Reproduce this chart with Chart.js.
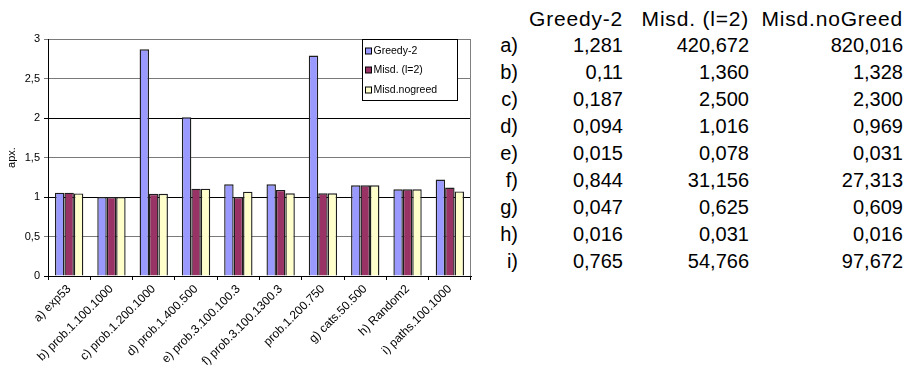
<!DOCTYPE html>
<html>
<head>
<meta charset="utf-8">
<script src="https://cdn.jsdelivr.net/npm/chart.js@4/dist/chart.umd.min.js"></script>
<style>
  html, body { margin: 0; padding: 0; background: #fff; }
  #wrap { position: relative; width: 918px; height: 369px; overflow: hidden; }
  #chart { position: absolute; left: 0; top: 0; }
  .cell {
    position: absolute;
    font-family: "Liberation Sans", Arial, sans-serif;
    font-size: 20px;
    line-height: 27px;
    height: 27px;
    color: #000;
    white-space: nowrap;
    text-align: right;
  }
  .cell.head { font-size: 21px; letter-spacing: 0.8px; }
</style>
</head>
<body>
<div id="wrap">
  <canvas id="chart" width="480" height="369"></canvas>
  <div id="table"></div>
</div>
<script>
// Benchmark instances (x axis)
const categories = [
  'a) exp53',
  'b) prob.1.100.1000',
  'c) prob.1.200.1000',
  'd) prob.1.400.500',
  'e) prob.3.100.100.3',
  'f) prob.3.100.1300.3',
  'prob.1.200.750',
  'g) cats.50.500',
  'h) Random2',
  'i) paths.100.1000'
];

// Approximation ratio per algorithm
const seriesNames = ['Greedy-2', 'Misd. (l=2)', 'Misd.nogreed'];
const greedy2   = [1.055, 1.00, 2.87, 2.01, 1.16, 1.16, 2.79, 1.148, 1.097, 1.22];
const misdL2    = [1.055, 1.00, 1.04, 1.105, 1.00, 1.09, 1.047, 1.148, 1.097, 1.12];
const misdNoGr  = [1.045, 1.00, 1.04, 1.105, 1.067, 1.047, 1.047, 1.148, 1.097, 1.07];
const seriesColors = ['#9999FF', '#993366', '#FFFFCC'];

// y axis ticks
const yTicks = [0, 0.5, 1, 1.5, 2, 2.5, 3];

// Running time table
const tableHeader = ['Greedy-2', 'Misd. (l=2)', 'Misd.noGreed'];
const tableRowLabels = ['a)', 'b)', 'c)', 'd)', 'e)', 'f)', 'g)', 'h)', 'i)'];
const timeGreedy2  = ['1,281', '0,11', '0,187', '0,094', '0,015', '0,844', '0,047', '0,016', '0,765'];
const timeMisdL2   = ['420,672', '1,360', '2,500', '1,016', '0,078', '31,156', '0,625', '0,031', '54,766'];
const timeMisdNoGr = ['820,016', '1,328', '2,300', '0,969', '0,031', '27,313', '0,609', '0,016', '97,672'];

const FONT = '"Liberation Sans", Arial, sans-serif';

// ---- table ----
(function buildTable() {
  const host = document.getElementById('table');
  const colRight = [518, 623, 749, 903];   // right edges of the columns
  const firstTop = 4.5, rowStep = 27.1;
  function cell(text, col, row, head) {
    const d = document.createElement('div');
    d.className = head ? 'cell head' : 'cell';
    d.textContent = text;
    d.style.right = (918 - colRight[col]) + 'px';
    d.style.top = (firstTop + row * rowStep) + 'px';
    host.appendChild(d);
  }
  tableHeader.forEach((h, i) => cell(h, i + 1, 0, true));
  tableRowLabels.forEach((lab, r) => {
    cell(lab, 0, r + 1);
    cell(timeGreedy2[r], 1, r + 1);
    cell(timeMisdL2[r], 2, r + 1);
    cell(timeMisdNoGr[r], 3, r + 1);
  });
})();

// ---- chart ----
const frameAndLegend = {
  id: 'frameAndLegend',
  beforeDatasetsDraw(chart) {
    const { ctx, chartArea: a } = chart;
    ctx.save();
    ctx.strokeStyle = '#808080';
    ctx.lineWidth = 1;
    ctx.beginPath();
    ctx.moveTo(Math.round(a.right) - 0.5, a.top);
    ctx.lineTo(Math.round(a.right) - 0.5, a.bottom);
    ctx.stroke();
    ctx.restore();
  },
  afterDatasetsDraw(chart) {
    const { ctx, chartArea: a } = chart;
    const boxW = 95, boxH = 61;
    const x0 = Math.round(a.right) - 14 - boxW + 0.5;
    const y0 = Math.round(a.top) + 0.5;
    ctx.save();
    ctx.fillStyle = '#fff';
    ctx.fillRect(x0, y0, boxW, boxH);
    ctx.strokeStyle = '#000';
    ctx.lineWidth = 1;
    ctx.strokeRect(x0, y0, boxW, boxH);
    ctx.font = '10.5px ' + FONT;
    ctx.textBaseline = 'middle';
    chart.data.datasets.forEach((ds, i) => {
      const cy = Math.round(y0 + 11 + i * 19.5);
      ctx.fillStyle = ds.backgroundColor;
      ctx.fillRect(x0 + 3, cy - 3, 6, 6);
      ctx.strokeStyle = '#000';
      ctx.strokeRect(x0 + 3, cy - 3, 6, 6);
      ctx.fillStyle = '#000';
      ctx.fillText(ds.label, x0 + 11, cy + 0.5);
    });
    ctx.restore();
  }
};

const seriesData = [greedy2, misdL2, misdNoGr];

new Chart(document.getElementById('chart'), {
  type: 'bar',
  data: {
    labels: categories,
    datasets: seriesData.map((vals, i) => ({
      label: seriesNames[i],
      data: vals,
      backgroundColor: seriesColors[i],
      borderColor: '#1e1e1e',
      borderWidth: 1.4,
      borderSkipped: 'start',
      barPercentage: 1,
      categoryPercentage: 0.67
    }))
  },
  options: {
    responsive: false,
    animation: false,
    layout: { padding: { top: 39, right: 9, left: 0, bottom: 0 } },
    plugins: { legend: { display: false }, tooltip: { enabled: false } },
    scales: {
      x: {
        grid: {
          offset: true,
          drawOnChartArea: false,
          drawTicks: true,
          tickLength: 4,
          color: '#000'
        },
        border: { color: '#000', width: 1 },
        ticks: {
          autoSkip: false,
          minRotation: 45,
          maxRotation: 45,
          padding: 2,
          color: '#000',
          font: { family: FONT, size: 12 }
        },
        afterFit(s) { s.height = 93; }
      },
      y: {
        min: 0,
        max: 3,
        afterBuildTicks(s) { s.ticks = yTicks.map(v => ({ value: v })); },
        ticks: {
          padding: 4,
          color: '#000',
          font: { family: FONT, size: 11 },
          callback: v => String(v).replace('.', ',')
        },
        grid: {
          tickLength: 4,
          color: c => (c.tick && Number.isInteger(c.tick.value) && c.tick.value < 3) ? '#000' : '#7a7a7a'
        },
        border: { color: '#000', width: 1 },
        title: {
          display: true,
          text: 'apx.',
          color: '#000',
          padding: { top: 5, bottom: 0 },
          font: { family: FONT, size: 11 }
        },
        afterFit(s) { s.width = 48; }
      }
    }
  },
  plugins: [frameAndLegend]
});
</script>
</body>
</html>
